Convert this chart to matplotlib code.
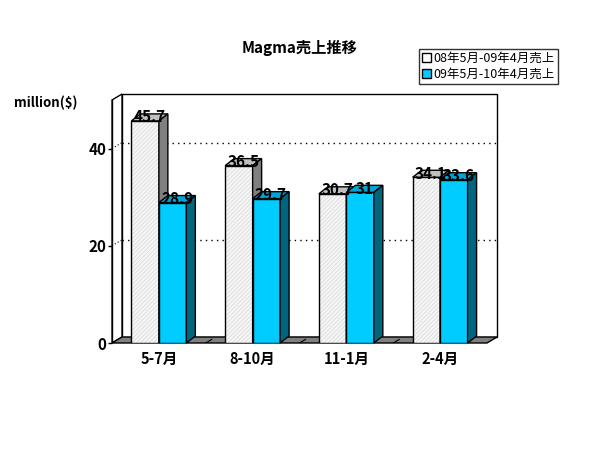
import matplotlib
matplotlib.use("Agg")
from matplotlib import pyplot as plt
from matplotlib.patches import Polygon, Rectangle
from matplotlib.lines import Line2D

plt.rcParams['font.family'] = ['Noto Sans CJK JP', 'DejaVu Sans']
plt.rcParams['hatch.linewidth'] = 0.5

categories = ['5-7月', '8-10月', '11-1月', '2-4月']
sales_0809 = [45.7, 36.5, 30.7, 34.1]
sales_0910 = [28.9, 29.7, 31, 33.6]
series_names = ['08年5月-09年4月売上', '09年5月-10年4月売上']

YMAX = 50
W = 0.293          # bar width in category units
# depth offsets (data units) for wall and bars
WX, WY = 10 / 375 * 4, 6 / 243 * YMAX
BX, BY = 9 / 375 * 4, 7 / 243 * YMAX

fig = plt.figure(figsize=(6, 4.5), dpi=100)
ax = fig.add_axes([112 / 600, 107 / 450, 375 / 600, 243 / 450])
ax.set_xlim(0, len(categories))
ax.set_ylim(0, YMAX)
for s in ax.spines.values():
    s.set_visible(False)
ax.patch.set_visible(False)

n = len(categories)
# back wall, side wall, floor
ax.add_patch(Rectangle((WX, WY), n, YMAX, fc='white', ec='black', lw=1, clip_on=False, zorder=1))
ax.add_patch(Polygon([(0, 0), (WX, WY), (WX, YMAX + WY), (0, YMAX)], closed=True,
                     fc='white', ec='black', lw=1, clip_on=False, zorder=1))
ax.add_patch(Polygon([(0, 0), (n, 0), (n + WX, WY), (WX, WY)], closed=True,
                     fc='#808080', ec='black', lw=1, clip_on=False, zorder=2))
for g in [20, 40]:
    ax.add_line(Line2D([WX, n + WX], [g + WY, g + WY], color='black', lw=1,
                       ls=(0, (1, 3)), clip_on=False, zorder=1.5))
    ax.add_line(Line2D([0, WX], [g, g + WY], color='black', lw=0.8,
                       ls=(0, (1, 2)), clip_on=False, zorder=1.5))
for k in range(1, n):
    ax.add_line(Line2D([k, k + WX * 0.6], [0, WY * 0.6], color='black', lw=0.8, zorder=2.5))


def bar3d(x0, h, front, top, side, hatch=None, z=3):
    x1 = x0 + W
    if hatch:
        ax.add_patch(Rectangle((x0, 0), W, h, fc=front, ec='#d6d6d6', lw=0, hatch=hatch, zorder=z))
        ax.add_patch(Rectangle((x0, 0), W, h, fill=False, ec='black', lw=1, zorder=z))
    else:
        ax.add_patch(Rectangle((x0, 0), W, h, fc=front, ec='black', lw=1, zorder=z))
    ax.add_patch(Polygon([(x0, h), (x1, h), (x1 + BX, h + BY), (x0 + BX, h + BY)], closed=True,
                         fc=top, ec='black', lw=1, zorder=z, clip_on=False))
    ax.add_patch(Polygon([(x1, 0), (x1 + BX, BY), (x1 + BX, h + BY), (x1, h)], closed=True,
                         fc=side, ec='black', lw=1, zorder=z, clip_on=False))
    ax.text(x0 + W / 2 + BX / 2, h + BY / 2, f'{h:g}', ha='center', va='center',
            fontsize=11, fontweight='bold', zorder=20, clip_on=False)


for i in range(n):
    c = i + 0.5
    bar3d(c - W, sales_0809[i], '#f6f6f6', '#c0c0c0', '#808080', hatch='////////', z=3 + 2 * i)
    bar3d(c, sales_0910[i], '#00ccff', '#00a6d6', '#006680', z=4 + 2 * i)

ax.plot([0, 0], [0, YMAX], color='black', lw=1, zorder=2)
ax.set_yticks([0, 20, 40])
ax.set_yticklabels(['0', '20', '40'], fontsize=11, fontweight='bold')
ax.tick_params(axis='y', length=3, width=1, direction='out', pad=1)
ax.set_xticks([i + 0.5 for i in range(n)])
ax.set_xticklabels(categories, fontsize=10.5, fontweight='bold')
ax.tick_params(axis='x', length=0, pad=6)

fig.text(0.5, 1 - 48 / 450, 'Magma売上推移', ha='center', va='center', fontsize=11, fontweight='bold')
fig.text(14 / 600, 1 - 103 / 450, 'million($)', ha='left', va='center', fontsize=9.5, fontweight='bold')

handles = [Rectangle((0, 0), 1, 1, fc='white', ec='black', lw=1),
           Rectangle((0, 0), 1, 1, fc='#00ccff', ec='black', lw=1)]
leg = fig.legend(handles, series_names, loc='upper left', bbox_to_anchor=(419 / 600, 1 - 49 / 450),
                 fontsize=9, frameon=True, fancybox=False, borderpad=0.25, handlelength=0.7,
                 handleheight=0.7, handletextpad=0.2, labelspacing=0.2, borderaxespad=0)
leg.get_frame().set_edgecolor('black')
leg.get_frame().set_linewidth(1)

fig.savefig('out.png', dpi=100)
